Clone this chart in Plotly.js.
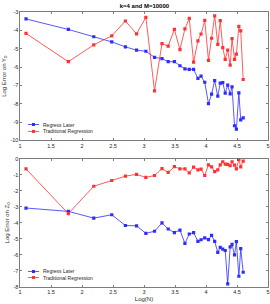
<!DOCTYPE html>
<html>
<head>
<meta charset="utf-8">
<script src="https://cdn.plot.ly/plotly-3.0.1.min.js"></script>
<style>html,body{margin:0;padding:0;background:#fff;}#chart{width:270px;height:304px;}</style>
</head>
<body>
<div id="chart"></div>
<script>
var logN = [1.097, 1.78, 2.19, 2.48, 2.70, 2.88, 3.03, 3.17, 3.29, 3.39, 3.49, 3.58, 3.66, 3.73, 3.80, 3.87, 3.92, 3.98, 4.04, 4.09, 4.14, 4.19, 4.23, 4.27, 4.31, 4.35, 4.39, 4.42, 4.46, 4.49, 4.53, 4.56, 4.60];
var y0RegressLater = [-3.38, -3.95, -4.35, -4.63, -4.9, -5.08, -5.14, -5.47, -5.54, -5.71, -5.71, -5.93, -6.1, -6.13, -6.13, -6.62, -6.5, -6.83, -7.99, -7.48, -6.74, -7.59, -6.88, -6.85, -7.42, -6.99, -7.46, -7.08, -9.2, -9.38, -7.41, -8.88, -8.77];
var y0Traditional = [-4.17, -5.71, -4.79, -4.30, -3.49, -4.19, -3.29, -7.3, -4.72, -4.86, -3.95, -5.05, -3.92, -3.35, -5.73, -4.57, -4.2, -3.46, -5.64, -4.43, -3.21, -4.76, -3.47, -4.94, -5.58, -5.08, -5.9, -4.45, -5.58, -5.3, -3.78, -4.03, -6.68];
var z0RegressLater = [-3.07, -3.28, -3.70, -3.49, -4.16, -4.18, -4.65, -4.52, -4.0, -4.38, -4.6, -4.45, -5.28, -4.69, -4.61, -5.15, -5.05, -4.93, -5.04, -4.78, -5.15, -5.84, -5.53, -5.64, -5.72, -7.8, -5.5, -5.34, -6.0, -5.17, -7.33, -5.6, -7.08];
var z0Traditional = [-0.63, -3.42, -1.71, -1.35, -1.08, -0.97, -1.16, -1.04, -0.61, -0.85, -0.49, -0.63, -0.62, -0.88, -0.52, -0.69, -0.64, -1.04, -0.37, -0.5, -0.8, -0.69, -0.38, -0.18, -0.33, -0.35, -0.43, -0.18, -0.39, -0.62, -0.03, -0.5, -0.14];
var seriesNames = ["Regress Later", "Traditional Regression"];
var xTicks = [1, 1.5, 2, 2.5, 3, 3.5, 4, 4.5, 5];
var yTicksTop = [-10, -9, -8, -7, -6, -5, -4, -3];
var yTicksBottom = [-8, -7, -6, -5, -4, -3, -2, -1, 0];

var blue = "rgb(45,45,255)";
var red = "rgb(255,50,50)";
function tr(y, xa, ya, col) {
  return {x: logN, y: y, xaxis: xa, yaxis: ya, type: "scatter", mode: "lines+markers",
    line: {color: col, width: 0.8}, marker: {color: col, size: 3.2, symbol: "square"}, showlegend: false};
}
var data = [
  tr(y0RegressLater, "x", "y", blue), tr(y0Traditional, "x", "y", red),
  tr(z0RegressLater, "x2", "y2", blue), tr(z0Traditional, "x2", "y2", red)
];
var tf = {family: "Liberation Sans, Arial, sans-serif", size: 5.5, color: "#262626"};
function xax(anchor, withTitle) {
  var a = {range: [1, 5], tickvals: xTicks, ticktext: xTicks.map(String), ticks: "inside", ticklen: 2, tickwidth: 0.6,
    tickcolor: "#262626", showline: true, linecolor: "#262626", linewidth: 0.6, mirror: "ticks", showgrid: false,
    zeroline: false, tickfont: tf, anchor: anchor};
  if (withTitle) a.title = {text: "Log(N)", font: {family: tf.family, size: 6, color: "#262626"}, standoff: 2};
  return a;
}
function yax(range, ticks, domain, anchor, title) {
  return {range: range, tickvals: ticks, ticktext: ticks.map(String), ticks: "inside", ticklen: 2, tickwidth: 0.6,
    tickcolor: "#262626", showline: true, linecolor: "#262626", linewidth: 0.6, mirror: "ticks", showgrid: false,
    zeroline: false, tickfont: tf, domain: domain, anchor: anchor,
    title: {text: title, font: {family: tf.family, size: 6, color: "#262626"}, standoff: 3}};
}
var shapes = [], annotations = [];
function legend(xr, yr, rows) {
  var cols = [blue, red];
  for (var i = 0; i < 2; i++) {
    shapes.push({type: "line", xref: xr, yref: yr, x0: 0.032, x1: 0.077, y0: rows[i], y1: rows[i], line: {color: cols[i], width: 0.8}});
    shapes.push({type: "rect", xref: xr, yref: yr, xsizemode: "pixel", ysizemode: "pixel", xanchor: 0.0545, yanchor: rows[i],
      x0: -1.5, x1: 1.5, y0: -1.5, y1: 1.5, fillcolor: cols[i], line: {width: 0}});
    annotations.push({xref: xr, yref: yr, x: 0.086, y: rows[i], xanchor: "left", yanchor: "middle", showarrow: false,
      text: seriesNames[i], font: {family: tf.family, size: 5, color: "#262626"}});
  }
}
legend("x domain", "y domain", [0.124, 0.07]);
legend("x2 domain", "y2 domain", [0.121, 0.074]);
var layout = {
  width: 270, height: 304,
  margin: {l: 20, r: 2, t: 12, b: 16.5},
  paper_bgcolor: "#fff", plot_bgcolor: "#fff",
  title: {text: "<b>k=4 and M=10000</b>", font: {family: tf.family, size: 6, color: "#000"}, x: 0.535, xanchor: "center", y: 0.981, yanchor: "middle"},
  xaxis: xax("y", false),
  yaxis: yax([-10, -3], yTicksTop, [0.533, 1], "x", "Log Error on Y<sub>0</sub>"),
  xaxis2: xax("y2", true),
  yaxis2: yax([-8, 0], yTicksBottom, [0, 0.466], "x2", "Log Error on Z<sub>0</sub>"),
  shapes: shapes, annotations: annotations, showlegend: false
};
Plotly.newPlot("chart", data, layout, {displayModeBar: false, staticPlot: true});
</script>
</body>
</html>
